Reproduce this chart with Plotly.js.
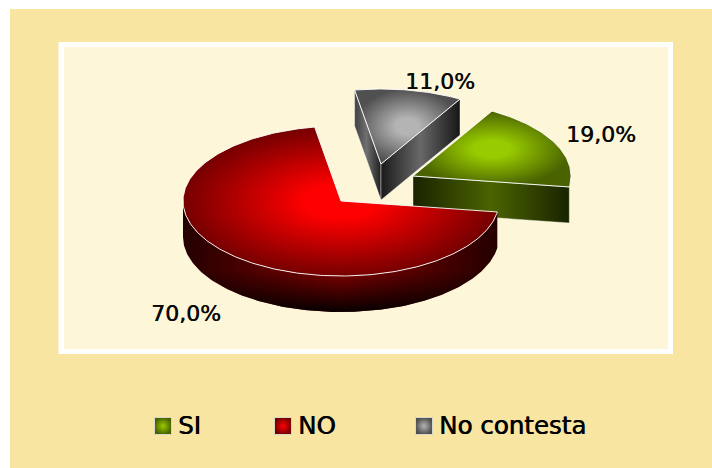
<!DOCTYPE html>
<html>
<head>
<meta charset="utf-8">
<script src="https://cdn.plot.ly/plotly-3.0.1.min.js"></script>
<style>html,body{margin:0;padding:0;background:#fff}#chart{width:712px;height:468px}</style>
</head>
<body>
<div id="chart"></div>
<script>
var categories = ["SI", "NO", "No contesta"];
var values = [19, 70, 11];

// Styles and geometry, separate from the data
var RX = 158, RY = 75, DEPTH = 36;
var startDeg = 60;
var apexes = [[413, 176], [341, 201], [381, 164]];
var labelPos = [[601, 136], [186, 315], [440, 83]];
var legendX = [163, 283, 424], legendY = 426;
var topInner = ["#99CC00", "#FF0000", "#B4B4B4"];
var topOuter = ["#4A6300", "#760000", "#505050"];
var FONT = "DejaVu Sans, Verdana, sans-serif";

var total = values.reduce(function (a, b) { return a + b; }, 0);
var spans = [], cur = startDeg;
values.forEach(function (v) {
  var sweep = v / total * 360;
  spans.push([cur, cur - sweep]);
  cur -= sweep;
});

function pt(c, deg, dy) {
  var r = deg * Math.PI / 180;
  return [c[0] + RX * Math.cos(r), c[1] - RY * Math.sin(r) + (dy || 0)];
}
function arc(c, a0, a1, dy) {
  var n = Math.max(2, Math.ceil(Math.abs(a1 - a0))), out = [];
  for (var i = 0; i <= n; i++) out.push(pt(c, a0 + (a1 - a0) * i / n, dy));
  return out;
}
function poly(points, grad, line, width) {
  var xs = points.map(function (p) { return p[0]; });
  var ys = points.map(function (p) { return p[1]; });
  xs.push(xs[0]); ys.push(ys[0]);
  return {
    x: xs, y: ys, type: "scatter", mode: "lines", fill: "toself",
    fillgradient: grad, fillcolor: "rgba(0,0,0,0)",
    line: { color: line || "rgba(0,0,0,0)", width: width === undefined ? 1 : width },
    hoverinfo: "skip", showlegend: false
  };
}
function hGrad(stops, a, b) {
  var o = { type: "horizontal", colorscale: stops };
  if (a !== undefined) { o.start = a; o.stop = b; }
  return o;
}
function radial(i) {
  return { type: "radial", colorscale: [[0, topInner[i]], [0.22, topInner[i]], [1, topOuter[i]]] };
}
var EDGE = "rgba(255,255,255,0.9)", SOFT = "rgba(255,255,255,0.55)";
var traces = [];

// Gray slice
(function () {
  var c = apexes[2], s = spans[2];
  var L = pt(c, s[0]), R = pt(c, s[1]);
  traces.push(poly([L, c, [c[0], c[1] + DEPTH], [L[0], L[1] + DEPTH]],
    hGrad([[0, "#404040"], [0.45, "#707070"], [1, "#1E1E1E"]]), SOFT, 0.75));
  traces.push(poly([c, R, [R[0], R[1] + DEPTH], [c[0], c[1] + DEPTH]],
    hGrad([[0, "#1A1A1A"], [0.5, "#686868"], [1, "#161616"]]), SOFT, 0.75));
  traces.push(poly([c].concat(arc(c, s[0], s[1])), radial(2), EDGE, 1));
})();

// Green slice
(function () {
  var c = apexes[0], s = spans[0];
  var E = pt(c, s[1]);
  traces.push(poly([c, E, [E[0], E[1] + DEPTH], [c[0], c[1] + DEPTH]],
    hGrad([[0, "#182400"], [0.5, "#4C6300"], [1, "#182400"]]), SOFT, 0.75));
  traces.push(poly([c].concat(arc(c, s[0], s[1])), radial(0), EDGE, 1));
})();

// Red slice
(function () {
  var c = apexes[1], s = spans[1];
  var front = arc(c, s[0], -180);
  var back = arc(c, -180, s[0], DEPTH);
  var band = front.concat(back);
  traces.push(poly(band,
    hGrad([[0, "#240000"], [0.5, "#860000"], [1, "#240000"]]), null, 0));
  traces.push(poly(band, {
    type: "vertical", start: c[1] + RY - 6, stop: c[1] + RY + DEPTH,
    colorscale: [[0, "rgba(0,0,0,0)"], [1, "rgba(0,0,0,0.95)"]]
  }, null, 0));
  traces.push(poly([c].concat(arc(c, s[0], s[1])), radial(1), EDGE, 1));
})();

// Percentage labels
traces.push({
  type: "scatter", mode: "text",
  x: labelPos.map(function (p) { return p[0]; }),
  y: labelPos.map(function (p) { return p[1]; }),
  text: values.map(function (v) { return v.toFixed(1).replace(".", ",") + "%"; }),
  textposition: "middle center",
  textfont: { family: FONT, size: 22, color: "#0A0A0A", shadow: "0.4px 0 0 #0A0A0A" },
  hoverinfo: "skip", showlegend: false
});

// Legend row
traces.push({
  type: "scatter", mode: "markers",
  x: legendX, y: legendX.map(function () { return legendY; }),
  marker: {
    symbol: "square", size: 17, color: topOuter,
    gradient: { type: "radial", color: topInner },
    line: { color: "#D8D8C8", width: 1 }
  },
  hoverinfo: "skip", showlegend: false
});
traces.push({
  type: "scatter", mode: "text",
  x: legendX.map(function (v) { return v + 15; }),
  y: legendX.map(function () { return legendY + 1.5; }),
  text: categories,
  textposition: "middle right",
  textfont: { family: FONT, size: 24.5, color: "#000000", shadow: "0.6px 0 0 #000000" },
  hoverinfo: "skip", showlegend: false
});

var layout = {
  width: 712, height: 468,
  margin: { l: 0, r: 0, t: 0, b: 0 },
  paper_bgcolor: "#FFFFFF", plot_bgcolor: "rgba(0,0,0,0)",
  showlegend: false,
  xaxis: { range: [0, 712], visible: false, fixedrange: true },
  yaxis: { range: [468, 0], visible: false, fixedrange: true },
  shapes: [
    { type: "rect", xref: "x", yref: "y", layer: "below", x0: 10, y0: 9, x1: 712, y1: 468, fillcolor: "#F8E5A2", line: { width: 0 } },
    { type: "rect", xref: "x", yref: "y", layer: "below", x0: 58.5, y0: 42, x1: 673, y1: 354, fillcolor: "#FFFFFF", line: { width: 0 } },
    { type: "rect", xref: "x", yref: "y", layer: "below", x0: 64, y0: 47, x1: 668, y1: 349, fillcolor: "#FDF6D8", line: { width: 0 } }
  ]
};
Plotly.newPlot("chart", traces, layout, { displayModeBar: false, staticPlot: true });
</script>
</body>
</html>
